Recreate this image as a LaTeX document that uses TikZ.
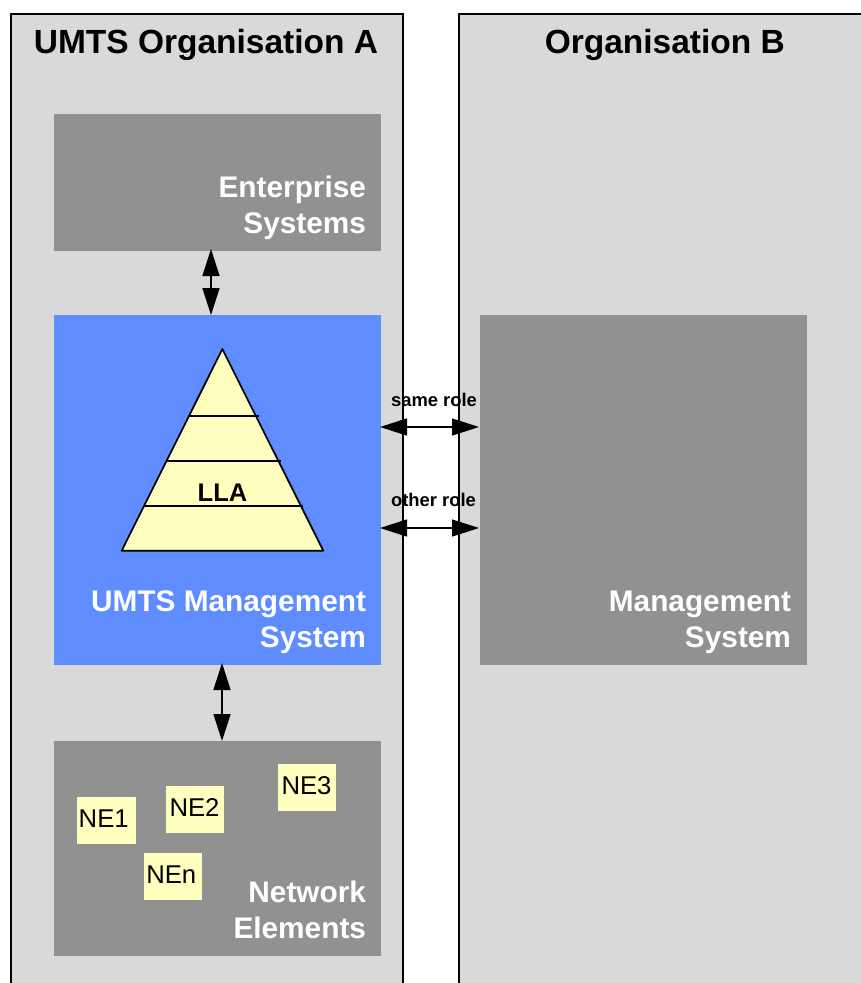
\documentclass[tikz,border=0pt]{standalone}
\usepackage{fontspec}
\setmainfont{Liberation Sans}
\usetikzlibrary{arrows.meta}
\definecolor{orgfill}{HTML}{D9D9D9}
\definecolor{sysgray}{HTML}{919191}
\definecolor{umtsblue}{HTML}{5F8CFF}
\definecolor{paleyellow}{HTML}{FFFFC0}
\tikzset{
  every node/.style={outer sep=0pt},
  orgbox/.style={draw=black,line width=1.5pt,fill=orgfill,anchor=north west,inner sep=0pt},
  sysbox/.style={fill=sysgray,anchor=north west,inner sep=0pt},
  bluebox/.style={fill=umtsblue,anchor=north west,inner sep=0pt},
  nebox/.style={fill=paleyellow,anchor=north west,inner sep=0pt,text width=58pt,align=left,
    minimum height=47pt,text height=19pt,text depth=5pt,font=\fontsize{25.7pt}{30pt}\selectfont},
  orgtitle/.style={anchor=base,inner sep=0pt,font=\bfseries\fontsize{33.5pt}{38pt}\selectfont},
  syslabel/.style={anchor=base east,inner sep=0pt,align=right,text=white,font=\bfseries\fontsize{29.8pt}{36pt}\selectfont},
  rolelabel/.style={anchor=base,inner sep=0pt,font=\bfseries\fontsize{18.4pt}{22pt}\selectfont},
  biarrow/.style={line width=1.5pt,{Triangle[length=27pt,width=17pt]}-{Triangle[length=27pt,width=17pt]}},
  varrow/.style={biarrow,shorten <=-2pt},
  harrow/.style={biarrow,shorten <=-1pt,shorten >=1pt},
  pyr/.style={draw=black,line width=1.7pt},
}
\begin{document}
\begin{tikzpicture}[x=1pt,y=-1pt]
\useasboundingbox (0,0) rectangle (861,983);
\clip (0,0) rectangle (861,983);
% organisations
\node[orgbox,minimum width=392pt,minimum height=1000pt] (orgA) at (11,14) {};
\node[orgbox,minimum width=450pt,minimum height=1000pt] (orgB) at (459,14) {};
\node[orgtitle] (titleA) at (206,53) {UMTS Organisation A};
\node[orgtitle] (titleB) at (664.8,53) {Organisation B};
% systems
\node[sysbox,minimum width=327pt,minimum height=137pt] (ent) at (54,114) {};
\node[bluebox,minimum width=327pt,minimum height=350pt] (ums) at (54,315) {};
\node[sysbox,minimum width=327pt,minimum height=215pt] (net) at (54,741) {};
\node[sysbox,minimum width=327pt,minimum height=350pt] (ms) at (480,315) {};
\node[syslabel] (entL) at (366,233) {Enterprise\\Systems};
\node[syslabel] (umsL) at (366,647) {UMTS Management\\System};
\node[syslabel] (netL) at (366,938) {Network\\Elements};
\node[syslabel] (msL) at (791,647) {Management\\System};
% pyramid
\coordinate (apex) at (222.4,349);
\coordinate (bl) at (121.7,550.7);
\coordinate (br) at (323.3,550.7);
\draw[pyr,fill=paleyellow,line join=round] (apex) -- (bl) -- (br) -- cycle;
\coordinate (l1a) at (188,416); \coordinate (l1b) at (258.5,416);
\coordinate (l2a) at (166,461); \coordinate (l2b) at (281,461);
\coordinate (l3a) at (144,506); \coordinate (l3b) at (302.5,506);
\draw[pyr] (l1a) -- (l1b);
\draw[pyr] (l2a) -- (l2b);
\draw[pyr] (l3a) -- (l3b);
\node[anchor=base,inner sep=0pt,font=\bfseries\fontsize{25.5pt}{30pt}\selectfont] (lla) at (222.5,501) {LLA};
% network elements
\node[nebox,text width=59pt] (ne1) at (77,797) {\hspace*{1.7pt}NE1};
\node[nebox] (ne2) at (166,786) {\hspace*{3.5pt}NE2};
\node[nebox] (ne3) at (278,764) {\hspace*{3.5pt}NE3};
\node[nebox] (nen) at (144,853) {\hspace*{2.3pt}NEn};
% connectors
\coordinate (vA) at (211,0);
\coordinate (vB) at (222,0);
\coordinate (hA) at (0,427);
\coordinate (hB) at (0,528);
\draw[varrow] (ent.south -| vA) -- (ums.north -| vA);
\draw[varrow] (ums.south -| vB) -- (net.north -| vB);
\draw[harrow] (ums.east |- hA) -- (ms.west |- hA);
\draw[harrow] (ums.east |- hB) -- (ms.west |- hB);
\node[rolelabel] (same) at (434,406) {same role};
\node[rolelabel] (other) at (433.5,506) {other role};
\end{tikzpicture}
\end{document}
